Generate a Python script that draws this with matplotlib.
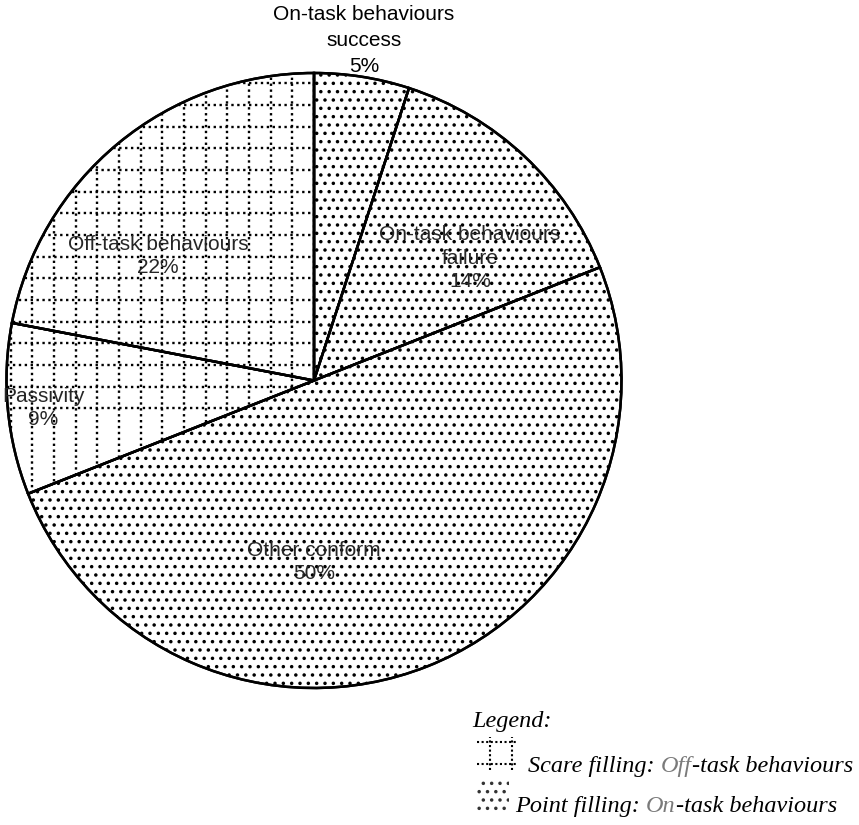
import numpy as np
import matplotlib
matplotlib.use("Agg")
import matplotlib.pyplot as plt
from matplotlib.patches import Rectangle, PathPatch

# slices, clockwise from 12 o'clock
categories = ["On-task behaviours\nsuccess", "On-task behaviours\nfailure",
              "Other conform", "Passivity", "Off-task behaviours"]
values = [5, 14, 50, 9, 22]
filling = ["point", "point", "point", "scare", "scare"]

# label offsets from the centre, in radius units
label_offsets = [(0.163, 1.106), (0.507, 0.398), (0.0, -0.59),
                 (-0.881, -0.089), (-0.507, 0.405)]

W, H = 859, 825
plt.rcParams['hatch.linewidth'] = 1.3
fig = plt.figure(figsize=(W / 100, H / 100), dpi=100)
ax = fig.add_axes([0, 0, 1, 1])

cx, cy, R = 314, H - 380.5, 307.5
hatches = ['..' if f == "point" else None for f in filling]
wedges, _ = ax.pie(values, startangle=90, counterclock=False, center=(cx, cy),
                   radius=R, hatch=hatches,
                   wedgeprops=dict(facecolor='white', edgecolor='black', linewidth=1.8))
ax.set_xlim(0, W)
ax.set_ylim(0, H)
ax.axis('off')

dotted = (0, (1, 1.5))

# dotted grid for the "scare" filling
step = 21.67
xs = np.arange(cx, -step, -step)
ys = np.arange(H - 235 - 8 * step, H - 235 + 12 * step, step)
for w, f in zip(wedges, filling):
    w.set_zorder(1)
    if f != "scare":
        continue
    for x in xs:
        ln, = ax.plot([x, x], [cy - R, cy + R], color='black', lw=1.7,
                      linestyle=dotted, zorder=1.5)
        ln.set_clip_path(w)
    for y in ys:
        ln, = ax.plot([cx - R, cx + R], [y, y], color='black', lw=1.7,
                      linestyle=dotted, zorder=1.5)
        ln.set_clip_path(w)
for w in wedges:
    # redraw edges above the grid
    ax.add_patch(PathPatch(w.get_path(), fill=False, edgecolor='black', lw=1.8,
                           zorder=2, transform=w.get_transform()))

total = sum(values)
for cat, v, (ox, oy) in zip(categories, values, label_offsets):
    top = oy > 1
    ax.text(cx + ox * R, cy + oy * R, f"{cat}\n{v / total * 100:.0f}%",
            ha='center', va='center', fontsize=15, family='Liberation Sans',
            color='black' if top else '#262626',
            linespacing=1.45 if top else 1.3, zorder=3)

# legend
serif = dict(family='Liberation Serif', style='italic', fontsize=17.5)
ax.text(472, H - 727, "Legend:", ha='left', va='baseline', **serif)

# small scare-filling icon
for x in (490, 512):
    ax.plot([x, x], [H - 770, H - 737], color='black', lw=1.5, linestyle=(0, (1, 1.2)))
for y in (742, 764):
    ax.plot([477, 516], [H - y, H - y], color='black', lw=1.5, linestyle=(0, (1, 1.2)))
# small point-filling icon
ax.add_patch(Rectangle((477, H - 813), 32, 35, facecolor='white',
                       edgecolor='#333333', lw=0, hatch='..'))

renderer = fig.canvas.get_renderer()


def colored_line(x, y, parts):
    for txt, col in parts:
        t = ax.text(x, y, txt, ha='left', va='baseline', color=col, **serif)
        bb = t.get_window_extent(renderer)
        x += bb.width


colored_line(528, H - 772, [("Scare filling: ", 'black'), ("Off", '#7a7a7a'),
                            ("-task behaviours", 'black')])
colored_line(515, H - 812, [("Point filling: ", 'black'), ("On", '#7a7a7a'),
                            ("-task behaviours", 'black')])

fig.savefig("out.png", dpi=100)
